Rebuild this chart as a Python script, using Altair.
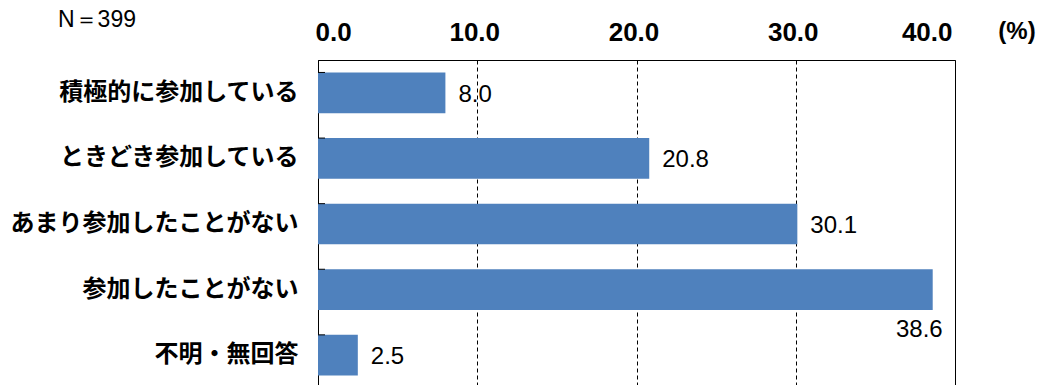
import altair as alt
import pandas as pd

categories = ["積極的に参加している", "ときどき参加している", "あまり参加したことがない", "参加したことがない", "不明・無回答"]
values = [8.0, 20.8, 30.1, 38.6, 2.5]
label_below = [False, False, False, True, False]
x_ticks = [0, 10, 20, 30, 40]
n_text = "N＝399"
unit_text = "(%)"

df = pd.DataFrame({"cat": categories, "val": values, "below": label_below,
                   "lab": [f"{v:.1f}" for v in values]})

W, H = 637, 328
ysc = alt.Scale(paddingInner=0.38, paddingOuter=0.19)
xsc = alt.Scale(domain=[0, 40])

base = alt.Chart(df)

bars = base.mark_bar(color="#4F81BD").encode(
    x=alt.X("val:Q", scale=xsc,
            axis=alt.Axis(orient="top", values=x_ticks, format=".1f", title=None,
                          labelFont="Liberation Sans",
                          labelFontWeight="bold", labelFontSize=26,
                          labelColor="black", labelBaseline="alphabetic", labelPadding=20,
                          labelOffset=-3, ticks=False, domain=False,
                          grid=True, gridColor="black", gridDash=[4, 3], gridOpacity=1, gridWidth=1)),
    y=alt.Y("cat:N", sort=categories, scale=ysc,
            axis=alt.Axis(title=None, labelFont="Noto Sans CJK JP", labelFontWeight="bold",
                          labelFontSize=24, labelColor="black", labelPadding=20, ticks=False,
                          domain=True, domainColor="black", labelLimit=400)),
)

inner_ticks = base.mark_rule(color="black", strokeWidth=1).encode(
    y=alt.Y("cat:N", sort=categories, bandPosition=0),
    x=alt.value(0), x2=alt.value(7),
)

labels_right = base.transform_filter("!datum.below").mark_text(
    align="left", baseline="middle", dx=13, dy=2, font="Liberation Sans", fontSize=24, color="black"
).encode(x=alt.X("val:Q"), y=alt.Y("cat:N", sort=categories), text="lab:N")

labels_below = base.transform_filter("datum.below").mark_text(
    align="right", baseline="middle", dx=10, dy=40, font="Liberation Sans", fontSize=24, color="black"
).encode(x=alt.X("val:Q"), y=alt.Y("cat:N", sort=categories), text="lab:N")

ntxt = alt.Chart(pd.DataFrame({"t": [n_text]})).mark_text(
    align="left", baseline="middle", font="Liberation Sans", fontSize=23, color="black"
).encode(x=alt.value(-260), y=alt.value(-40), text="t:N")

unit = alt.Chart(pd.DataFrame({"t": [unit_text]})).mark_text(
    align="center", baseline="middle", font="Liberation Sans", fontWeight="bold", fontSize=24, color="black"
).encode(x=alt.value(699), y=alt.value(-28), text="t:N")

chart = alt.layer(bars, inner_ticks, labels_right, labels_below, ntxt, unit).properties(
    width=W, height=H,
    autosize=alt.AutoSizeParams(type="none"),
    padding={"left": 318, "top": 60, "right": 87, "bottom": 0},
    background="white",
).configure_view(stroke="black", strokeWidth=1)

chart.save("out.html", embed_options={"renderer": "svg", "actions": False})
